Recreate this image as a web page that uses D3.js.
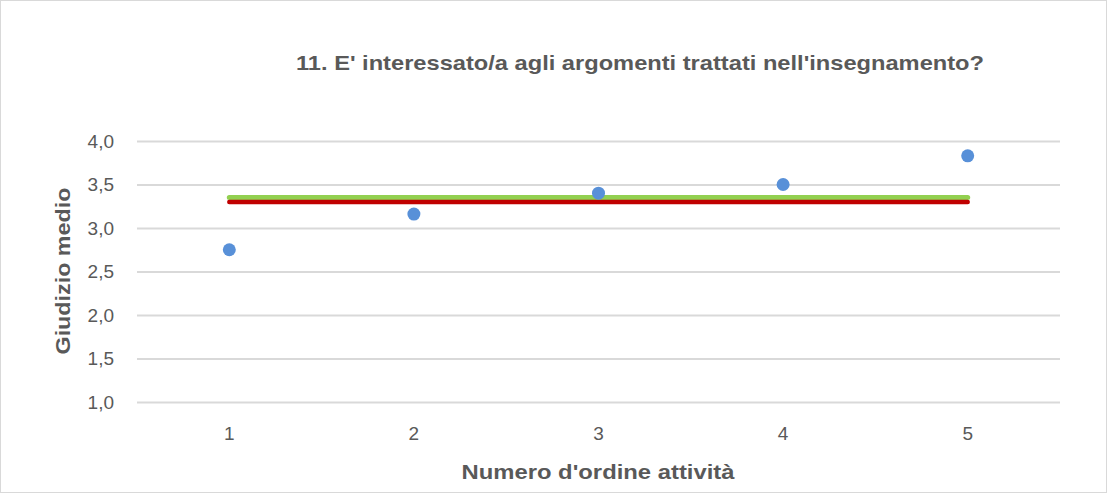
<!DOCTYPE html>
<html><head><meta charset="utf-8">
<script src="https://cdn.jsdelivr.net/npm/d3@7"></script>
<style>body{margin:0;background:#fff}svg{display:block}text{font-family:"Liberation Sans",Arial,sans-serif}</style>
</head><body><svg id="c" width="1107" height="493"></svg>
<script>
const categories = [1, 2, 3, 4, 5];
const values = [2.75, 3.16, 3.40, 3.50, 3.83];
const greenLine = 3.35;
const redLine = 3.30;
const yTicks = [1.0, 1.5, 2.0, 2.5, 3.0, 3.5, 4.0];
const title = "11. E' interessato/a agli argomenti trattati nell'insegnamento?";
const xTitle = "Numero d'ordine attività";
const yTitle = "Giudizio medio";

const svg = d3.select("#c");
const W = 1107, H = 493;
const m = {left: 137, right: 47, top: 141, bottom: 91};
svg.append("rect").attr("x",0.5).attr("y",0.5).attr("width",W-1).attr("height",H-1)
  .attr("fill","#fff").attr("stroke","#d9d9d9");

const x = d3.scaleBand().domain(categories).range([m.left, W-m.right]);
const y = d3.scaleLinear().domain([1,4]).range([H-m.bottom, m.top]);
const fmt = d => d3.format(".1f")(d).replace(".", ",");

const yAxis = svg.append("g").attr("transform",`translate(${m.left},0)`)
  .call(d3.axisLeft(y).tickValues(yTicks).tickSize(-(W-m.left-m.right)).tickFormat(fmt).tickPadding(23));
yAxis.select(".domain").remove();
yAxis.selectAll("line").attr("stroke","#d9d9d9").attr("stroke-width",2);
yAxis.selectAll("text").attr("fill","#595959").style("font-size","19px");

const xAxis = svg.append("g").attr("transform",`translate(0,${H-m.bottom})`)
  .call(d3.axisBottom(x).tickSize(0).tickPadding(25));
xAxis.select(".domain").remove();
xAxis.selectAll("text").attr("fill","#595959").style("font-size","19px");

const cx = d => x(d) + x.bandwidth()/2;
svg.append("line").attr("x1",cx(categories[0])).attr("x2",cx(categories[categories.length-1]))
  .attr("y1",y(greenLine)).attr("y2",y(greenLine))
  .attr("stroke","#92d050").attr("stroke-width",5).attr("stroke-linecap","round");
svg.append("line").attr("x1",cx(categories[0])).attr("x2",cx(categories[categories.length-1]))
  .attr("y1",y(redLine)).attr("y2",y(redLine))
  .attr("stroke","#c00000").attr("stroke-width",4.5).attr("stroke-linecap","round");

svg.append("g").selectAll("circle").data(categories).join("circle")
  .attr("cx", d => cx(d)).attr("cy", (d,i) => y(values[i])).attr("r",6.5).attr("fill","#5890d8");

svg.append("text").attr("x",640).attr("y",70).attr("text-anchor","middle")
  .attr("fill","#595959").attr("font-weight","bold").style("font-size","21px")
  .attr("textLength",688).attr("lengthAdjust","spacingAndGlyphs").text(title);
svg.append("text").attr("x",598).attr("y",479).attr("text-anchor","middle")
  .attr("fill","#595959").attr("font-weight","bold").style("font-size","21px")
  .attr("textLength",273).attr("lengthAdjust","spacingAndGlyphs").text(xTitle);
svg.append("text").attr("transform","translate(70,271) rotate(-90)").attr("text-anchor","middle")
  .attr("fill","#595959").attr("font-weight","bold").style("font-size","21px")
  .attr("textLength",167).attr("lengthAdjust","spacingAndGlyphs").text(yTitle);
</script></body></html>
